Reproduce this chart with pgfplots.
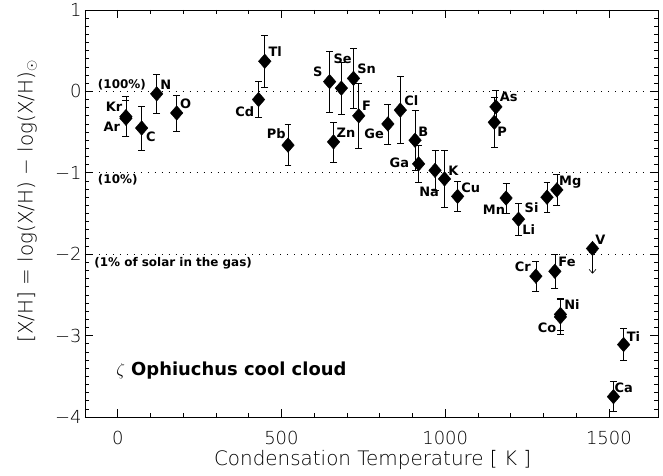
\documentclass[border=0pt]{standalone}
\usepackage{fontspec}
\setmainfont{DejaVu Sans}
\newfontfamily\thin{DejaVu Sans ExtraLight}
\usepackage{pgfplots}
\pgfplotsset{compat=1.18}
\usepackage{pgfplotstable}
\usetikzlibrary{arrows.meta}

% condensation temperature, [X/H], error
\pgfplotstableread{
x     y      e
25    -0.31  0.245
25    -0.33  0.22
73    -0.45  0.27
119   -0.03  0.235
180   -0.265 0.22
430   -0.10  0.22
449   0.37   0.32
520   -0.66  0.25
647   0.12   0.375
683   0.04   0.32
720   0.16   0.365
736   -0.30  0.40
659   -0.62  0.245
825   -0.40  0.245
863   -0.23  0.41
908   -0.60  0.37
919   -0.89  0.23
969   -0.97  0.245
998   -1.075 0.35
1038  -1.29  0.18
1155  -0.19  0.20
1150  -0.38  0.305
1186  -1.31  0.185
1224  -1.57  0.20
1311  -1.30  0.185
1341  -1.21  0.195
1277  -2.27  0.18
1335  -2.21  0.205
1352  -2.74  0.20
1352  -2.77  0.22
1545  -3.11  0.195
1514  -3.75  0.185
}\abund

\tikzset{
  el/.style={font=\fontsize{13}{15}\selectfont\bfseries, inner sep=0pt},
  note/.style={font=\fontsize{12}{14}\selectfont\bfseries, inner sep=0pt, anchor=west},
}

\begin{document}
\begin{tikzpicture}
\useasboundingbox (-85bp,-59bp) rectangle (578bp,417bp);
\begin{axis}[
  scale only axis, width=573bp, height=407bp,
  xmin=-100, xmax=1650, ymin=-4, ymax=1,
  xtick={0,500,1000,1500}, xticklabels={0,500,1000,1500},
  minor x tick num=4,
  ytick={-4,-3,-2,-1,0,1}, yticklabels={−4,−3,−2,−1,0,1},
  minor y tick num=9,
  major tick length=8bp, minor tick length=4bp,
  every tick/.style={black, line width=0.7pt},
  axis line style={line width=0.9pt},
  ticklabel style={font=\fontsize{18}{20}\thin},
  xticklabel style={yshift=-11bp},
  xlabel={Condensation Temperature [ K ]},
  ylabel={[X/H] = log(X/H) − log(X/H)$_{\odot}$},
  label style={font=\fontsize{20}{24}\thin},
  xlabel style={at={(axis description cs:0.502,-0.106)}, anchor=center},
  ylabel style={at={(axis description cs:-0.101,0.53)}, anchor=center},
  clip=false,
]
% reference levels
\addplot[black, line width=0.9pt, dash pattern=on 1pt off 6pt] coordinates {(-100,0) (1650,0)};
\addplot[black, line width=0.9pt, dash pattern=on 1pt off 6pt] coordinates {(-100,-1) (1650,-1)};
\addplot[black, line width=0.9pt, dash pattern=on 1pt off 6pt] coordinates {(-100,-2) (1650,-2)};

\addplot[only marks, black, mark=diamond*, mark size=7.3pt,
  mark options={xscale=1.15, fill=black},
  error bars/.cd, y dir=both, y explicit,
  error bar style={line width=0.6pt, black},
  error mark options={rotate=90, mark size=3.5pt, line width=0.6pt, black}]
  table[x=x, y=y, y error=e] {\abund};

% V upper limit
\addplot[only marks, black, mark=diamond*, mark size=7.3pt,
  mark options={xscale=1.15, fill=black},
  error bars/.cd, y dir=minus, y fixed=0.31,
  error bar style={line width=0.6pt, black, {Straight Barb[length=4pt,width=7pt]}-{Straight Barb[length=4pt,width=7pt]}},
  error mark options={mark size=0pt}]
  coordinates {(1450,-1.93)};

\node[el] at (axis cs:-11,-0.19) {Kr};
\node[el] at (axis cs:-18,-0.44) {Ar};
\node[el] at (axis cs:101,-0.56) {C};
\node[el] at (axis cs:147,0.08) {N};
\node[el] at (axis cs:207,-0.15) {O};
\node[el] at (axis cs:481,0.49) {Tl};
\node[el] at (axis cs:388,-0.245) {Cd};
\node[el] at (axis cs:484,-0.52) {Pb};
\node[el] at (axis cs:611,0.24) {S};
\node[el] at (axis cs:687,0.40) {Se};
\node[el] at (axis cs:760,0.275) {Sn};
\node[el] at (axis cs:760,-0.18) {F};
\node[el] at (axis cs:697,-0.51) {Zn};
\node[el] at (axis cs:783,-0.52) {Ge};
\node[el] at (axis cs:897,-0.11) {Cl};
\node[el] at (axis cs:933,-0.49) {B};
\node[el] at (axis cs:860,-0.88) {Ga};
\node[el] at (axis cs:951,-1.24) {Na};
\node[el] at (axis cs:1025,-0.97) {K};
\node[el] at (axis cs:1078,-1.18) {Cu};
\node[el] at (axis cs:1194,-0.07) {As};
\node[el] at (axis cs:1174,-0.50) {P};
\node[el] at (axis cs:1149,-1.45) {Mn};
\node[el] at (axis cs:1264,-1.43) {Si};
\node[el] at (axis cs:1255,-1.70) {Li};
\node[el] at (axis cs:1382,-1.12) {Mg};
\node[el] at (axis cs:1474,-1.82) {V};
\node[el] at (axis cs:1237,-2.15) {Cr};
\node[el] at (axis cs:1372,-2.10) {Fe};
\node[el] at (axis cs:1387,-2.62) {Ni};
\node[el] at (axis cs:1311,-2.90) {Co};
\node[el] at (axis cs:1575,-3.01) {Ti};
\node[el] at (axis cs:1545,-3.64) {Ca};

\node[note] at (axis cs:-61,0.08) {(100\%)};
\node[note] at (axis cs:-61,-1.08) {(10\%)};
\node[note] at (axis cs:-72,-2.11) {(1\% of solar in the gas)};
\node[anchor=west, inner sep=0pt, font=\fontsize{18}{20}\selectfont\bfseries] at (axis cs:-5,-3.43) {$\zeta$ Ophiuchus cool cloud};
\end{axis}
\end{tikzpicture}
\end{document}
